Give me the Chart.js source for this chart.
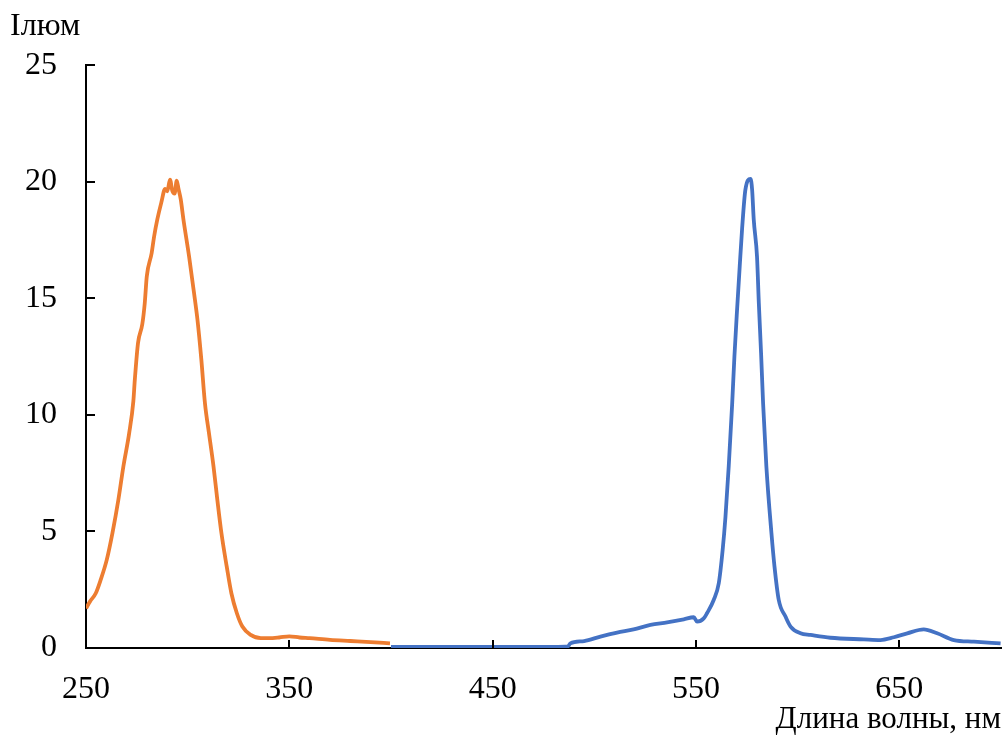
<!DOCTYPE html>
<html>
<head>
<meta charset="utf-8">
<script src="https://cdn.jsdelivr.net/npm/chart.js@4/dist/chart.umd.min.js"></script>
<style>
  html, body { margin: 0; padding: 0; background: #fff; }
  #wrap { width: 1008px; height: 735px; }
</style>
</head>
<body>
<div id="wrap"><canvas id="myChart"></canvas></div>
<script>
const xTicks = [250, 350, 450, 550, 650];
const yTicks = [0, 5, 10, 15, 20, 25];

// orange series (250 - 400 nm)
const orangeX = [250, 252, 254.8, 257.2, 260.2, 263, 265.9, 268.4, 271.2, 273.3, 274, 275.6, 277.7, 278.9, 279.9, 282.3, 283.5, 285.1, 287, 288.9, 290, 291.3, 292.5, 293.6, 294.6, 295.5, 296.6, 297.9, 300.7, 303.1, 304.8, 306.7, 308.5, 310.5, 312.7, 314.6, 316.6, 319.2, 321.5, 324.2, 326.9, 331, 336, 340, 345, 350, 355, 360, 370, 380, 390, 399.5];
const orangeY = [1.7, 2.0, 2.35, 2.92, 3.78, 4.93, 6.35, 7.8, 9.2, 10.6, 11.5, 13.1, 13.9, 14.8, 15.95, 16.95, 17.66, 18.4, 19.1, 19.7, 19.6, 20.1, 19.6, 19.5, 20.05, 19.7, 19.25, 18.4, 16.8, 15.25, 14.1, 12.4, 10.5, 9.2, 7.8, 6.35, 4.93, 3.5, 2.35, 1.49, 0.92, 0.56, 0.42, 0.42, 0.45, 0.5, 0.45, 0.42, 0.35, 0.3, 0.25, 0.2];

// blue series (400 - 700 nm)
const blueX = [400, 420, 440, 460, 480, 487, 488.2, 495, 503, 511.2, 519.3, 527.6, 535.8, 544, 548.9, 550.5, 553.8, 555.4, 558.7, 561.2, 563.1, 564.5, 566.1, 567.8, 568.9, 570.2, 571.5, 572.7, 574.3, 576.8, 577.6, 578.4, 580, 580.9, 582, 583, 584.6, 587.1, 588.6, 590.7, 594, 596.5, 601.4, 606.3, 616.1, 632.5, 640.7, 647.3, 653.9, 662, 668.6, 676.8, 686.7, 699.8];
const blueY = [0.05, 0.05, 0.05, 0.05, 0.05, 0.07, 0.2, 0.3, 0.49, 0.66, 0.8, 0.99, 1.1, 1.23, 1.32, 1.13, 1.27, 1.49, 2.06, 2.78, 4.2, 5.64, 7.8, 10.5, 12.52, 14.52, 16.38, 18.03, 19.67, 20.13, 19.67, 18.38, 16.8, 14.8, 12.66, 10.5, 7.8, 4.93, 3.5, 2.06, 1.35, 0.92, 0.63, 0.56, 0.44, 0.37, 0.34, 0.46, 0.63, 0.8, 0.63, 0.34, 0.27, 0.2];

const toPoints = (xs, ys) => xs.map((x, i) => ({x: x, y: ys[i]}));

const serif = "'Liberation Serif', 'Times New Roman', serif";

// tick marks pointing into the plot area
const innerTicks = {
    id: 'innerTicks',
    afterDatasetsDraw(chart) {
        const ctx = chart.ctx;
        const xs = chart.scales.x, ys = chart.scales.y;
        const area = chart.chartArea;
        ctx.save();
        ctx.strokeStyle = '#000';
        ctx.lineWidth = 2;
        ctx.beginPath();
        xTicks.forEach(v => {
            const px = Math.round(xs.getPixelForValue(v));
            ctx.moveTo(px, area.bottom);
            ctx.lineTo(px, area.bottom - 8);
        });
        yTicks.forEach(v => {
            const py = Math.round(ys.getPixelForValue(v));
            ctx.moveTo(area.left, py);
            ctx.lineTo(area.left + 9, py);
        });
        ctx.stroke();
        ctx.restore();
    }
};

const ctx = document.getElementById('myChart').getContext('2d');
const myChart = new Chart(ctx, {
    type: 'line',
    data: {
        datasets: [{
            data: toPoints(orangeX, orangeY),
            borderColor: '#ED7D31',
            borderWidth: 3.8,
            pointRadius: 0,
            cubicInterpolationMode: 'monotone',
            fill: false
        }, {
            data: toPoints(blueX, blueY),
            borderColor: '#4472C4',
            borderWidth: 3.8,
            pointRadius: 0,
            cubicInterpolationMode: 'monotone',
            fill: false
        }]
    },
    options: {
        responsive: true,
        maintainAspectRatio: false,
        animation: false,
        layout: {
            padding: {left: 10, right: 7, top: 0, bottom: 0}
        },
        plugins: {
            legend: {display: false},
            tooltip: {enabled: false},
            title: {
                display: true,
                text: 'Ілюм',
                align: 'start',
                color: '#000',
                font: {family: serif, size: 32, weight: 'normal', lineHeight: 1.2},
                padding: {top: 7, bottom: 20}
            }
        },
        scales: {
            x: {
                type: 'linear',
                min: 250,
                max: 700,
                afterBuildTicks: (axis) => {
                    axis.ticks = xTicks.map(v => ({value: v}));
                },
                afterFit: (scale) => { scale.height = 87; },
                grid: {display: true, drawOnChartArea: false, drawTicks: false},
                border: {display: true, color: '#000', width: 2},
                ticks: {
                    color: '#000',
                    padding: 22,
                    maxRotation: 0,
                    font: {family: serif, size: 32}
                },
                title: {
                    display: true,
                    text: 'Длина волны, нм',
                    align: 'end',
                    color: '#000',
                    font: {family: serif, size: 31, lineHeight: 1},
                    padding: {top: 0, bottom: 0}
                }
            },
            y: {
                min: 0,
                max: 25,
                afterBuildTicks: (axis) => {
                    axis.ticks = yTicks.map(v => ({value: v}));
                },
                afterFit: (scale) => { scale.width = 76; },
                grid: {display: true, drawOnChartArea: false, drawTicks: false},
                border: {display: true, color: '#000', width: 2},
                ticks: {
                    color: '#000',
                    padding: 29,
                    font: {family: serif, size: 32}
                }
            }
        }
    },
    plugins: [innerTicks]
});
</script>
</body>
</html>
